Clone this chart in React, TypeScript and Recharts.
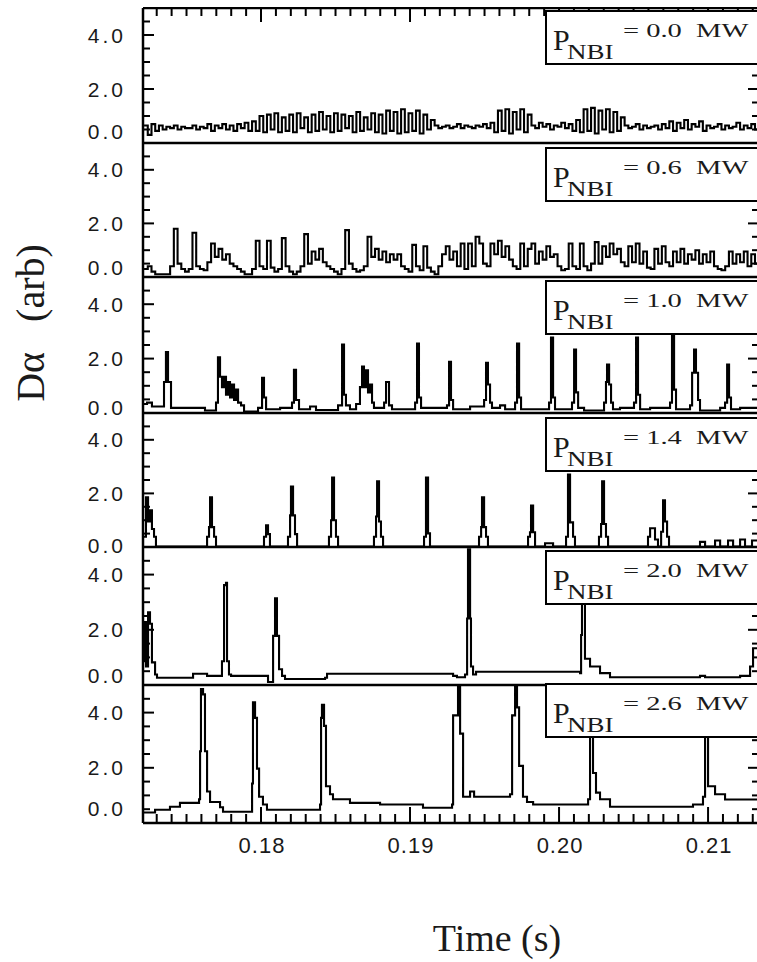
import React from 'react';
import { LineChart, Line, XAxis, YAxis } from 'recharts';

// ---------- data ----------
const powerLabels = ['0.0', '0.6', '1.0', '1.4', '2.0', '2.6'];
const xMajorTicks = [0.18, 0.19, 0.2, 0.21];
const xTickLabels = ['0.18', '0.19', '0.20', '0.21'];
const yMajorTicks = [0, 2, 4];
const yTickLabels = ['0.0', '2.0', '4.0'];
const xDomain: [number, number] = [0.17208, 0.21362];
const yDomain: [number, number] = [0, 5];

// dense digitised signals (sampled every 0.25 ms from t0)
const denseT0 = 0.17215;
const denseDt = 0.00025;
const p1Values = [
  0.65, 0.3, 0.7, 0.45, 0.65, 0.5, 0.6, 0.55, 0.65, 0.5,
  0.6, 0.55, 0.55, 0.65, 0.5, 0.6, 0.55, 0.7, 0.45, 0.65,
  0.55, 0.7, 0.5, 0.65, 0.45, 0.7, 0.55, 0.75, 0.45, 0.8,
  0.45, 1.0, 0.4, 1.05, 0.5, 1.1, 0.4, 0.95, 0.45, 1.05,
  0.4, 1.1, 0.55, 0.95, 0.4, 1.05, 0.45, 1.15, 0.5, 1.0,
  0.4, 1.1, 0.45, 1.05, 0.55, 1.0, 0.4, 1.15, 0.45, 0.95,
  0.5, 1.1, 0.4, 1.05,
  0.35, 1.2, 0.45, 1.15, 0.35, 1.25, 0.4, 1.1, 0.45, 1.2, 0.35, 1.05, 0.5, 0.85,
  0.65, 0.55, 0.6, 0.65, 0.55, 0.6, 0.7, 0.55, 0.65, 0.6, 0.55, 0.65, 0.6, 0.7, 0.55, 0.75,
  0.4, 1.2, 0.45, 1.25, 0.35, 1.15, 0.5, 1.25, 0.4, 1.05,
  0.65, 0.55, 0.75, 0.6, 0.7, 0.5, 0.65, 0.6, 0.75, 0.55, 0.7, 0.45, 0.85,
  0.4, 1.25, 0.45, 1.3, 0.35, 1.2, 0.5, 1.25, 0.4, 1.15, 0.45, 0.95,
  0.65, 0.55, 0.6, 0.7, 0.5, 0.65, 0.55, 0.6, 0.65, 0.5, 0.7, 0.55,
  0.8, 0.45, 0.75, 0.55, 0.85, 0.5, 0.7, 0.6, 0.8, 0.45, 0.65, 0.55,
  0.6, 0.7, 0.5, 0.65, 0.55, 0.6, 0.75, 0.5, 0.65, 0.55, 0.7, 0.5, 0.6,
];
const p2Values = [
  0.3, 0.4, 0.2, 0.1, 0.1, 0.1, 0.1,
  0.4, 1.8, 0.5, 0.3, 0.2, 0.3, 1.65, 0.4, 0.3, 0.25, 0.55,
  1.25, 0.75, 1.05, 0.65, 0.85,
  0.5, 0.4, 0.3, 0.2, 0.1, 0.1, 0.3,
  1.35, 0.4, 0.3, 1.35, 0.35, 0.2, 0.3, 1.45, 0.4, 0.2, 0.1, 0.2, 0.4, 1.6, 0.5,
  0.95, 0.65, 1.05, 0.55,
  0.4, 0.3, 0.2, 0.1, 0.3,
  1.75, 0.5, 0.3, 0.2, 0.25, 0.4, 1.5, 0.75, 1.05, 0.65,
  0.95, 0.55, 0.85, 0.65, 0.85, 0.4,
  0.3, 0.2, 1.2, 0.4, 0.25, 1.15, 0.35, 0.2, 0.1, 0.4,
  0.85, 1.15, 0.65, 0.95,
  0.4, 1.25, 0.3, 1.25, 0.4, 1.5, 1.25, 0.5, 0.4,
  1.25, 0.85, 1.35, 0.75, 1.15, 0.65,
  0.4, 0.3, 1.25, 0.4, 1.05, 1.25, 0.5,
  0.95, 0.65, 1.15, 0.75, 0.85,
  0.4, 0.25, 0.3, 1.25, 0.4, 0.3, 1.25, 0.4, 0.25, 0.5, 1.3, 0.5,
  1.15, 0.75, 1.25, 0.85, 1.05, 0.55,
  0.4, 1.15, 0.55, 1.25, 0.5, 0.95, 0.35, 0.3,
  1.05, 0.5, 1.15, 0.55,
  0.4,
  0.95, 0.55, 1.05, 0.5, 0.85, 0.65, 1.0, 0.5, 0.85, 0.55, 0.95, 0.4,
  0.3, 0.25, 0.4,
  0.95, 0.5, 0.85, 0.55, 0.95, 0.4, 0.85, 0.5, 0.75,
];

// sparse signals: [time (s), D-alpha (arb)]
const p3: [number, number][] = [
  [0.17208, 0.33], [0.17235, 0.38], [0.17268, 0.24], [0.17349, 1.14], [0.17362, 2.24],
  [0.17376, 1.14], [0.17396, 0.19], [0.17624, 0.09], [0.17698, 0.38], [0.17711, 2.05],
  [0.17725, 1.33], [0.17738, 0.95], [0.17752, 1.33], [0.17765, 0.67], [0.17779, 1.14],
  [0.17792, 0.57], [0.17805, 1.05], [0.17819, 0.48], [0.17832, 0.86], [0.17846, 0.38],
  [0.17866, 0.28], [0.17886, 0.05], [0.1798, 0.19], [0.18007, 1.29], [0.1802, 0.57],
  [0.18034, 0.14], [0.18128, 0.19], [0.18208, 0.38], [0.18221, 1.59], [0.18235, 0.48],
  [0.18255, 0.14], [0.18329, 0.24], [0.18369, 0.11], [0.18517, 0.28], [0.18544, 2.52],
  [0.18557, 0.67], [0.1857, 0.28], [0.18597, 0.14], [0.18638, 0.33], [0.18664, 0.95],
  [0.18678, 1.71], [0.18691, 0.95], [0.18705, 1.57], [0.18718, 0.76], [0.18732, 1.05],
  [0.18745, 0.38], [0.18758, 0.19], [0.18826, 0.38], [0.18839, 1.14], [0.18859, 0.28],
  [0.18879, 0.14], [0.19034, 0.38], [0.19047, 2.55], [0.1906, 0.57], [0.19074, 0.19],
  [0.19248, 0.28], [0.19262, 1.88], [0.19275, 0.48], [0.19289, 0.14], [0.19403, 0.24],
  [0.19497, 0.48], [0.1951, 1.85], [0.19523, 1.05], [0.19537, 0.38], [0.1955, 0.19],
  [0.19604, 0.28], [0.19638, 0.14], [0.19705, 0.38], [0.19718, 2.55], [0.19732, 0.57],
  [0.19745, 0.14], [0.19933, 0.38], [0.19946, 2.77], [0.1996, 0.57], [0.19973, 0.14],
  [0.20087, 0.38], [0.20101, 2.33], [0.20114, 0.76], [0.20128, 0.19], [0.20168, 0.09],
  [0.20302, 0.38], [0.20315, 1.14], [0.20322, 1.78], [0.20336, 1.05], [0.20349, 0.38],
  [0.20362, 0.14], [0.20409, 0.19], [0.20503, 0.38], [0.20517, 2.77], [0.2053, 0.67],
  [0.20544, 0.14], [0.20611, 0.19], [0.20745, 0.38], [0.20758, 3.24], [0.20772, 0.86],
  [0.20785, 0.14], [0.20879, 0.28], [0.20893, 1.48], [0.20906, 2.33], [0.20919, 1.48],
  [0.20933, 0.48], [0.20946, 0.09], [0.21081, 0.19], [0.21114, 0.38], [0.21128, 1.78],
  [0.21141, 0.57], [0.21154, 0.14], [0.21215, 0.19], [0.21362, 0.19],
];
const p4: [number, number][] = [
  [0.17208, 0.38], [0.17228, 1.85], [0.17242, 0.95], [0.17255, 1.37], [0.17268, 0.67],
  [0.17282, 0.38], [0.17295, 0.02], [0.17638, 0.38], [0.17651, 0.74], [0.17658, 1.85],
  [0.17671, 0.74], [0.17685, 0.38], [0.17698, 0.02], [0.1802, 0.38], [0.18034, 0.81],
  [0.18047, 0.48], [0.1806, 0.02], [0.18181, 0.38], [0.18195, 1.18], [0.18201, 2.26],
  [0.18215, 1.18], [0.18228, 0.48], [0.18242, 0.02], [0.18456, 0.38], [0.1847, 1.0],
  [0.18477, 2.59], [0.1849, 1.0], [0.18503, 0.38], [0.18517, 0.02], [0.18758, 0.38],
  [0.18772, 1.14], [0.18779, 2.45], [0.18792, 0.95], [0.18805, 0.38], [0.18819, 0.02],
  [0.19094, 0.38], [0.19107, 2.59], [0.19121, 0.51], [0.19134, 0.02], [0.19463, 0.38],
  [0.19477, 0.74], [0.19483, 1.85], [0.19497, 0.74], [0.1951, 0.38], [0.19523, 0.02],
  [0.19792, 0.38], [0.19805, 0.55], [0.19812, 1.55], [0.19826, 0.55], [0.19839, 0.02],
  [0.19906, 0.14], [0.1996, 0.02], [0.20047, 0.38], [0.2006, 2.7], [0.20074, 0.92],
  [0.20094, 0.38], [0.20107, 0.02], [0.20268, 0.38], [0.20282, 0.86], [0.20289, 2.45],
  [0.20302, 0.86], [0.20315, 0.38], [0.20329, 0.02], [0.20597, 0.38], [0.20611, 0.7],
  [0.20644, 0.28], [0.20664, 0.02], [0.20685, 0.57], [0.20698, 1.74], [0.20711, 0.95],
  [0.20725, 0.38], [0.20738, 0.02], [0.20946, 0.19], [0.2098, 0.02], [0.21047, 0.24],
  [0.21081, 0.02], [0.21134, 0.24], [0.21168, 0.02], [0.21215, 0.28], [0.21248, 0.02],
  [0.21295, 0.24], [0.21362, 0.24],
];
const p5: [number, number][] = [
  [0.17208, 0.86], [0.17221, 2.28], [0.17228, 0.67], [0.17242, 2.63], [0.17255, 2.22],
  [0.17268, 0.82], [0.17289, 0.38], [0.17302, 0.26], [0.17544, 0.41], [0.17638, 0.33],
  [0.17738, 0.86], [0.17752, 3.62], [0.17765, 3.7], [0.17772, 0.86], [0.17785, 0.38],
  [0.17799, 0.33], [0.18047, 0.11], [0.18081, 1.78], [0.18094, 3.14], [0.18107, 1.78],
  [0.18121, 0.57], [0.18141, 0.33], [0.18161, 0.22], [0.1843, 0.26], [0.18443, 0.41],
  [0.19289, 0.33], [0.19315, 0.28], [0.19369, 0.38], [0.19383, 2.41], [0.19389, 4.92],
  [0.19403, 2.41], [0.19409, 0.67], [0.19423, 0.38], [0.19443, 0.48], [0.20141, 0.43],
  [0.20148, 1.81], [0.20154, 4.38], [0.20174, 0.95], [0.20208, 0.67], [0.20275, 0.43],
  [0.20342, 0.28], [0.20946, 0.33], [0.2098, 0.28], [0.21215, 0.33], [0.21282, 0.67],
  [0.21302, 1.33], [0.21362, 1.33],
];
const p6: [number, number][] = [
  [0.17208, 0.38], [0.17289, 0.48], [0.17389, 0.59], [0.17456, 0.73], [0.17584, 0.86],
  [0.17591, 2.6], [0.17597, 4.85], [0.17611, 4.66], [0.17624, 2.6], [0.17638, 1.14],
  [0.17658, 0.76], [0.17725, 0.57], [0.17745, 0.41], [0.17893, 0.41], [0.1794, 1.43],
  [0.17946, 4.37], [0.1796, 3.81], [0.17973, 1.97], [0.17987, 0.95], [0.18013, 0.67],
  [0.1804, 0.48], [0.18396, 0.67], [0.18403, 3.81], [0.18409, 4.28], [0.18423, 3.52],
  [0.18436, 1.33], [0.18463, 1.04], [0.18483, 0.86], [0.18597, 0.73], [0.18799, 0.67],
  [0.19087, 0.55], [0.19282, 0.67], [0.19289, 3.9], [0.19322, 4.98], [0.19336, 3.24],
  [0.19356, 0.95], [0.19403, 1.14], [0.1943, 0.95], [0.19671, 1.04], [0.19685, 3.9],
  [0.19705, 4.98], [0.19718, 4.19], [0.19732, 2.07], [0.19758, 0.95], [0.19785, 0.76],
  [0.19826, 0.67], [0.20007, 0.67], [0.20195, 0.86], [0.20208, 4.66], [0.20228, 1.81],
  [0.20248, 1.1], [0.20275, 0.86], [0.20342, 0.59], [0.20899, 0.67], [0.20966, 0.95],
  [0.2098, 4.66], [0.21, 1.33], [0.21047, 1.04], [0.21114, 0.85], [0.21362, 0.85],
];

// ---------- layout ----------
const panelTop = [8, 143, 277, 413, 547, 685];
const panelH = [135, 134, 136, 134, 138, 138];
const zeroLabelLift = [12, 10, 6, 2, 10, 15];
const boxTop = [10, 147, 280, 417, 550, 683];
const PLOT_LEFT = 143;
const CHART_W = 777;
const MARGIN_RIGHT = 3;
const RIGHT_AXIS_W = 12;
const AXIS_W = 2.5;
const PAD_TOP = 3;
const PAD_BOTTOM = 14;

const minorX = Array.from({ length: 41 }, (_, i) => +(0.173 + i * 0.001).toFixed(3));
const minorY = Array.from({ length: 10 }, (_, i) => i * 0.5);

const majorIdx = (arr: number[], v: number) => arr.findIndex((m) => Math.abs(m - v) < 1e-6);

const denseData = (vals: number[]) => vals.map((v, i) => ({ t: +(denseT0 + i * denseDt).toFixed(5), v }));
const pairData = (pairs: [number, number][]) => pairs.map(([t, v]) => ({ t, v }));

const panelData = [
  denseData(p1Values),
  denseData(p2Values),
  pairData(p3),
  pairData(p4),
  pairData(p5),
  pairData(p6),
];

const sansFont = '"Liberation Sans", Arial, Helvetica, sans-serif';
const serifFont = '"Liberation Serif", "Times New Roman", Times, serif';
const textColor = '#1a1a1a';

// left axis ticks (pointing inwards) with labels
const makeLeftTick = (panel: number) => (props: any) => {
  const { x, y, payload } = props;
  const k = majorIdx(yMajorTicks, payload.value);
  const len = k >= 0 ? 11 : 7;
  const lift = k === 0 ? zeroLabelLift[panel] : 0;
  return (
    <g>
      <line x1={x} x2={x + len} y1={y} y2={y} stroke="#000" strokeWidth={2} />
      {k >= 0 && (
        <text
          x={x - 17}
          y={y + 7.5 - lift}
          textAnchor="end"
          fontSize={21}
          letterSpacing={3}
          fontFamily={sansFont}
          fill={textColor}
        >
          {yTickLabels[k]}
        </text>
      )}
    </g>
  );
};

// right axis ticks (pointing inwards)
const rightTick = (props: any) => {
  const { x, y, payload } = props;
  const len = majorIdx(yMajorTicks, payload.value) >= 0 ? 14 : 10;
  return (
    <g>
      <line x1={x} x2={x - len} y1={y} y2={y} stroke="#000" strokeWidth={2} />
    </g>
  );
};

// ticks hanging down from the top frame edge
const topTick = (props: any) => {
  const { x, y, payload } = props;
  const len = majorIdx(xMajorTicks, payload.value) >= 0 ? 14 : 8;
  return (
    <g>
      <line x1={x} x2={x} y1={y} y2={y + len} stroke="#000" strokeWidth={2} />
      <text x={x} y={y + 40} fontSize={1} fill="none">{''}</text>
    </g>
  );
};

// ticks on the bottom frame edge (pointing up) with labels
const bottomTick = (props: any) => {
  const { x, y, payload } = props;
  const k = majorIdx(xMajorTicks, payload.value);
  const len = k >= 0 ? 16 : 9;
  return (
    <g>
      <line x1={x} x2={x} y1={y} y2={y - len} stroke="#000" strokeWidth={2} />
      {k >= 0 && (
        <text
          x={x + 1}
          y={y + 30}
          textAnchor="middle"
          fontSize={22}
          letterSpacing={1}
          fontFamily={sansFont}
          fill={textColor}
        >
          {xTickLabels[k]}
        </text>
      )}
    </g>
  );
};

// thin chart whose bottom axis forms the top frame edge of the stack, with ticks hanging below it
function TopFrame() {
  const axisH = 60;
  const h = 1 + axisH;
  return (
    <div style={{ position: 'absolute', left: 0, top: panelTop[0] - 1, width: CHART_W, height: h, zIndex: 2 }}>
      <LineChart
        width={CHART_W}
        height={h}
        data={panelData[5]}
        margin={{ top: 0, right: MARGIN_RIGHT + RIGHT_AXIS_W, bottom: 0, left: PLOT_LEFT }}
      >
        <XAxis
          dataKey="t"
          type="number"
          orientation="bottom"
          domain={xDomain}
          allowDataOverflow
          height={axisH}
          ticks={minorX}
          interval={0}
          tickSize={0}
          tickMargin={0}
          tickLine={false}
          tick={topTick}
          axisLine={{ stroke: '#000', strokeWidth: AXIS_W }}
        />
        <YAxis type="number" domain={yDomain} allowDataOverflow hide />
        <Line type="stepAfter" dataKey="v" stroke="none" dot={false} activeDot={false} isAnimationActive={false} />
      </LineChart>
    </div>
  );
}

function Panel({ index }: { index: number }) {
  const isLast = index === 5;
  const bottomAxisH = isLast ? 60 : 1;
  const h = PAD_TOP + panelH[index] + bottomAxisH + PAD_BOTTOM;
  return (
    <div
      style={{
        position: 'absolute',
        left: 0,
        top: panelTop[index] - PAD_TOP,
        width: CHART_W,
        height: h,
        zIndex: 1,
      }}
    >
      <LineChart
        width={CHART_W}
        height={h}
        data={panelData[index]}
        margin={{ top: PAD_TOP, right: MARGIN_RIGHT, bottom: PAD_BOTTOM, left: 0 }}
      >
        <XAxis
          dataKey="t"
          type="number"
          orientation="bottom"
          domain={xDomain}
          allowDataOverflow
          height={bottomAxisH}
          ticks={minorX}
          interval={0}
          tickSize={0}
          tickMargin={0}
          tickLine={false}
          tick={isLast ? bottomTick : false}
          axisLine={{ stroke: '#000', strokeWidth: AXIS_W }}
        />
        <YAxis
          yAxisId="left"
          type="number"
          domain={yDomain}
          allowDataOverflow
          width={PLOT_LEFT}
          ticks={minorY}
          interval={0}
          tickSize={0}
          tickMargin={0}
          tickLine={false}
          tick={makeLeftTick(index)}
          axisLine={{ stroke: '#000', strokeWidth: AXIS_W }}
        />
        <YAxis
          yAxisId="right"
          orientation="right"
          type="number"
          domain={yDomain}
          allowDataOverflow
          width={RIGHT_AXIS_W}
          ticks={minorY}
          interval={0}
          tickSize={0}
          tickMargin={0}
          tickLine={false}
          tick={rightTick}
          axisLine={{ stroke: '#000', strokeWidth: AXIS_W }}
        />
        <Line
          yAxisId="right"
          type="stepAfter"
          dataKey="v"
          stroke="none"
          dot={false}
          activeDot={false}
          isAnimationActive={false}
        />
        <Line
          yAxisId="left"
          type="stepAfter"
          dataKey="v"
          stroke="#000"
          strokeWidth={2.1}
          dot={false}
          activeDot={false}
          isAnimationActive={false}
        />
      </LineChart>
    </div>
  );
}

function LegendBox({ index }: { index: number }) {
  return (
    <div
      style={{
        position: 'absolute',
        left: 545,
        top: boxTop[index],
        width: 260,
        height: 55,
        boxSizing: 'border-box',
        border: '2px solid #000',
        background: '#fff',
        fontFamily: serifFont,
        color: textColor,
        zIndex: 3,
      }}
    >
      <span style={{ position: 'absolute', left: 6, top: 13, fontSize: 30, lineHeight: '30px' }}>P</span>
      <span
        style={{
          position: 'absolute',
          left: 20,
          top: 30,
          fontSize: 20,
          lineHeight: '20px',
          transform: 'scaleX(1.35)',
          transformOrigin: 'left top',
        }}
      >
        NBI
      </span>
      <span
        style={{
          position: 'absolute',
          left: 76,
          top: 9,
          fontSize: 19,
          lineHeight: '19px',
          whiteSpace: 'pre',
          transform: 'scaleX(1.5)',
          transformOrigin: 'left top',
        }}
      >
        {'= ' + powerLabels[index] + '  MW'}
      </span>
    </div>
  );
}

export default function App() {
  return (
    <div
      style={{
        position: 'absolute',
        left: 0,
        top: 0,
        width: 757,
        height: 962,
        overflow: 'hidden',
        background: '#fff',
      }}
    >
      {panelData.map((_, i) => (
        <Panel key={i} index={i} />
      ))}
      <TopFrame />
      {panelData.map((_, i) => (
        <LegendBox key={'b' + i} index={i} />
      ))}
      <div
        style={{
          position: 'absolute',
          left: 31,
          top: 323,
          transform: 'translate(-50%, -50%) rotate(-90deg)',
          whiteSpace: 'pre',
          fontFamily: serifFont,
          fontSize: 40,
          lineHeight: '40px',
          color: textColor,
        }}
      >
        {'D\u03b1   (arb)'}
      </div>
      <div
        style={{
          position: 'absolute',
          left: 497,
          top: 919,
          transform: 'translateX(-50%)',
          whiteSpace: 'pre',
          fontFamily: serifFont,
          fontSize: 38,
          lineHeight: '38px',
          color: textColor,
        }}
      >
        Time (s)
      </div>
    </div>
  );
}
